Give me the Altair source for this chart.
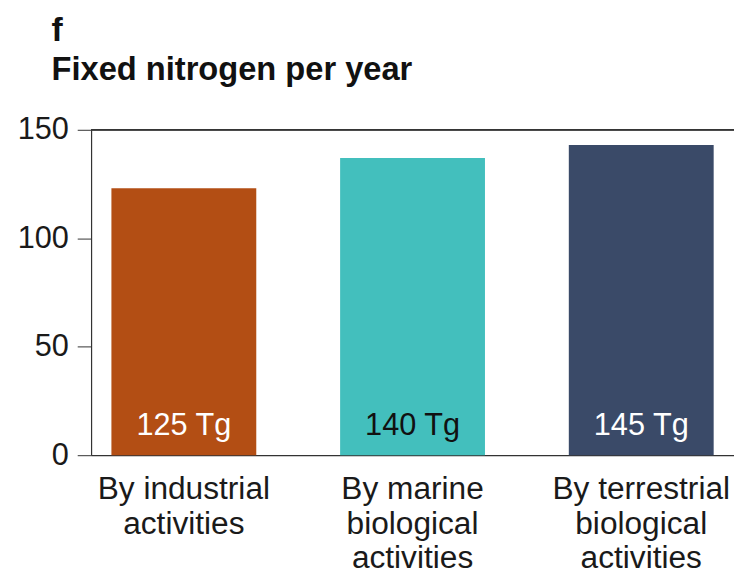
import altair as alt
import pandas as pd

# ---- data ----
categories = [
    "By industrial|activities",
    "By marine|biological|activities",
    "By terrestrial|biological|activities",
]
values = [123, 137, 143]
value_labels = ["125 Tg", "140 Tg", "145 Tg"]
y_ticks = [0, 50, 100, 150]

bar_colors = ["#B34E14", "#43BFBD", "#3A4A68"]
FONT = "Liberation Sans"

df = pd.DataFrame({"category": categories, "value": values, "label": value_labels})

x_enc = alt.X(
    "category:N",
    sort=categories,
    scale=alt.Scale(paddingInner=0.3666, paddingOuter=0.0889, align=0.5),
    axis=alt.Axis(
        title=None,
        labelAngle=0,
        ticks=False,
        tickSize=0,
        domain=True,
        domainColor="#333333",
        domainWidth=1.2,
        labelFont=FONT,
        labelFontSize=32,
        labelColor="#1a1a1a",
        labelLineHeight=35,
        labelPadding=19,
        labelBaseline="top",
        labelExpr="split(datum.label, '|')",
    ),
)

y_scale = alt.Scale(domain=[0, 150], nice=False)

bars = alt.Chart(df).mark_bar().encode(
    x=x_enc,
    y=alt.Y(
        "value:Q",
        scale=y_scale,
        axis=alt.Axis(
            title=None,
            values=y_ticks,
            grid=False,
            tickSize=14,
            tickColor="#333333",
            domainColor="#333333",
            domainWidth=1.2,
            labelFont=FONT,
            labelFontSize=31,
            labelColor="#1a1a1a",
            labelPadding=9,
        ),
    ),
    color=alt.Color(
        "category:N",
        scale=alt.Scale(domain=categories, range=bar_colors),
        legend=None,
    ),
)

texts = alt.Chart(df).mark_text(
    font=FONT, fontSize=31, baseline="alphabetic", align="center", dy=-20
).encode(
    x=alt.X("category:N", sort=categories),
    y=alt.datum(0),
    text="label:N",
    color=alt.condition(
        alt.datum.category == categories[1], alt.value("#111111"), alt.value("#ffffff")
    ),
)

top_line = alt.Chart(df).mark_rule(color="#333333", strokeWidth=1.2).encode(
    y=alt.datum(150)
)

chart = (
    alt.layer(bars, texts, top_line)
    .properties(
        width=650,
        height=329,
        autosize=alt.AutoSizeParams(type="none"),
        padding={"left": 84, "top": 120, "right": 0, "bottom": 119},
        title=alt.TitleParams(
            text="f",
            subtitle="Fixed nitrogen per year",
            anchor="start",
            frame="group",
            dx=-40,
            offset=27,
            font=FONT,
            fontSize=34,
            fontWeight="bold",
            color="#111111",
            subtitleFont=FONT,
            subtitleFontSize=33,
            subtitleFontWeight="bold",
            subtitleColor="#111111",
            subtitlePadding=7,
        ),
    )
    .configure_view(stroke=None)
)

chart.save("out.html", embed_options={"renderer": "svg", "actions": False})
